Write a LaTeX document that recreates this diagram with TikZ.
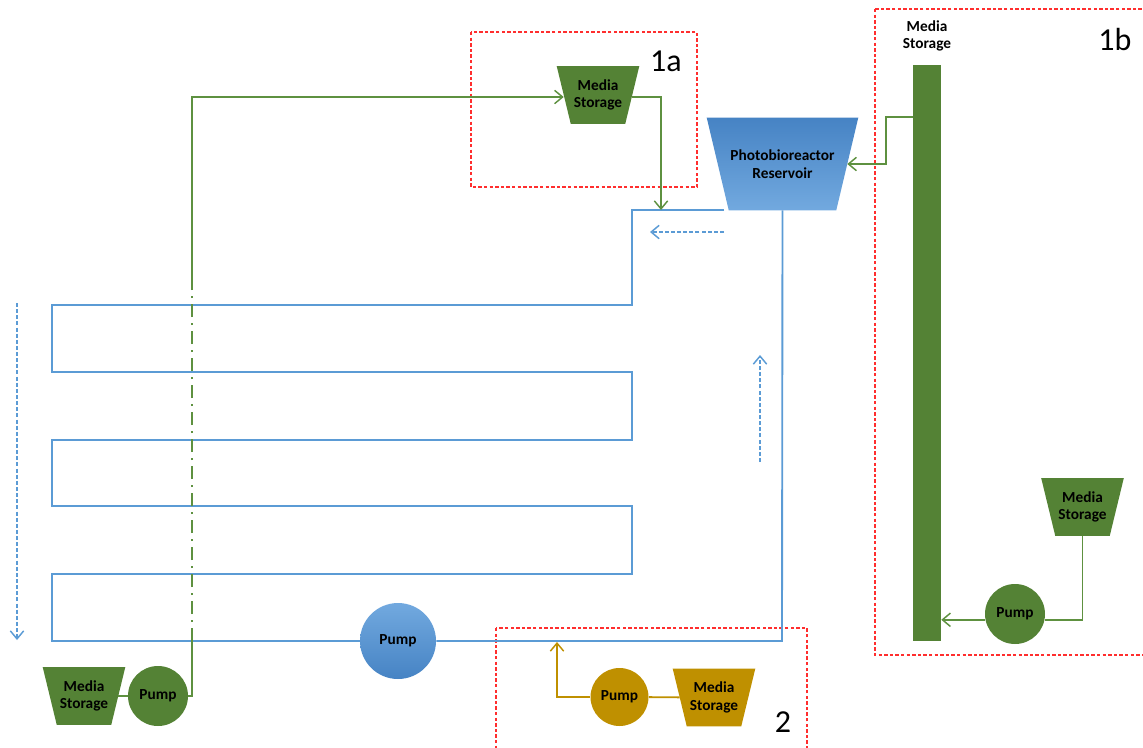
\documentclass[tikz,border=0pt]{standalone}
\usepackage{fontspec}
\setmainfont{Carlito}
\usetikzlibrary{arrows.meta,calc}
\definecolor{pgreen}{HTML}{548235}
\definecolor{lgreen}{HTML}{5E9140}
\definecolor{pblue}{HTML}{5B9BD5}
\definecolor{dblue}{HTML}{4683C4}
\definecolor{lblue}{HTML}{72A9DF}
\definecolor{pgold}{HTML}{BF9000}
\definecolor{pred}{HTML}{FF2E2E}
\pgfdeclarelayer{bg}
\pgfsetlayers{bg,main}
\newcommand\trapfill[3]{\fill[#3] ($(#1.north west)+(-#2,0)$) -- ($(#1.north east)+(#2,0)$) -- ($(#1.south east)+(-#2,0)$) -- ($(#1.south west)+(#2,0)$) -- cycle;}
\tikzset{
  x=0.75pt, y=-0.75pt,
  lbl/.style={font=\bfseries\fontsize{11.5}{13.3}\selectfont, align=center, text=black, inner sep=0pt},
  media/.style={lbl, minimum width=51pt, minimum height=42.75pt},
  pumpnode/.style={lbl, circle, minimum size=45pt},
  pipe/.style={draw=pblue, line width=1.4pt},
  gline/.style={draw=lgreen, line width=1.4pt},
  goldline/.style={draw=pgold, line width=1.4pt},
  barb/.style={-{Straight Barb[length=6pt,width=10pt,line width=1.1pt]}},
  flow/.style={draw=pblue, line width=1.1pt, dash pattern=on 3pt off 1.6pt, -{Straight Barb[length=6pt,width=10pt,line width=1.1pt]}},
  zone/.style={draw=pred, line width=0.8pt, dash pattern=on 2.6pt off 1.6pt},
  zonelbl/.style={font=\fontsize{24}{24}\selectfont, text=black, inner sep=0pt},
  dashdot/.style={draw=lgreen, line width=1.4pt, dash pattern=on 9.75pt off 4.5pt on 1.5pt off 4.5pt}
}
\begin{document}
\begin{tikzpicture}
\useasboundingbox (0,0) rectangle (1143,747);

% zones
\draw[zone] (471,32) rectangle (697,187);
\draw[zone] (875,9) rectangle (1152,655);
\draw[zone] (496,628) rectangle (807,760);
\node[zonelbl] (z1a) at (666,61) {1a};
\node[zonelbl] (z1b) at (1115,39) {1b};
\node[zonelbl] (z2) at (783,722) {2};

% nodes
\node[lbl, minimum width=96.75pt, minimum height=69pt] (res) at (782.5,164) {Photobioreactor\\Reservoir};
\node[media] (ms1a) at (598,95) {Media\\Storage};
\node[media] (ms1b) at (1082.5,507) {Media\\Storage};
\node[media] (msL) at (84,696) {Media\\Storage};
\node[media] (ms2) at (714,697.5) {Media\\Storage};
\node[draw=none, fill=pgreen, minimum width=21pt, minimum height=432pt, inner sep=0pt] (bar) at (927,353) {};
\node[lbl] (barlbl) at (927,36) {Media\\Storage};
\node[pumpnode, fill=pgreen] (pump1b) at (1015,614) {Pump};
\node[pumpnode, fill=pgreen] (pumpL) at (158,696) {Pump};
\node[pumpnode, fill=pgold, minimum size=43.5pt] (pump2) at (619.5,697) {Pump};
\node[pumpnode, top color=lblue, bottom color=dblue, minimum size=57pt] (pumpB) at (398,641) {Pump};

\begin{pgfonlayer}{bg}
\shade[top color=dblue, bottom color=lblue] ($(res.north west)+(-11,0)$) -- ($(res.north east)+(11,0)$) -- ($(res.south east)+(-11,0)$) -- ($(res.south west)+(11,0)$) -- cycle;
\trapfill{ms1a}{7}{pgreen}
\trapfill{ms1b}{7}{pgreen}
\trapfill{msL}{7}{pgreen}
\trapfill{ms2}{7}{pgold}
\end{pgfonlayer}

% serpentine
\coordinate (s0) at (724,210);
\draw[pipe] (s0) -- (632,210) -- (632,305) -- (52,305) -- (52,372) -- (632,372) -- (632,440) -- (52,440) -- (52,506) -- (632,506) -- (632,574) -- (52,574) -- (52,641) -- (pumpB);
\draw[pipe] (pumpB) -- (782,641) -- (res.south);

% flow arrows
\coordinate (f1s) at (724,232); \coordinate (f1e) at (650,232);
\coordinate (f2s) at (760,462); \coordinate (f2e) at (760,355);
\coordinate (f3s) at (17,303);  \coordinate (f3e) at (17,640);
\draw[flow] (f1s) -- (f1e);
\draw[flow] (f2s) -- (f2e);
\draw[flow] (f3s) -- (f3e);

% 1a feed
\coordinate (gA) at (192,641);
\coordinate (gB) at (192,286);
\coordinate (gC) at (192,97);
\draw[gline] (msL) -- (pumpL);
\draw[gline] (pumpL.east) -- (192,696) -- (gA);
\draw[dashdot] (gA) -- (gB);
\draw[gline, barb] (gB) -- (gC) -- (ms1a.west |- gC);
\coordinate (t1a) at (661,210);
\draw[gline, barb] (ms1a.east |- gC) -- (661,97) -- (t1a);

% 1b feed
\coordinate (b1) at (913,117);
\draw[gline, barb] (b1) -- (886,117) -- (886,164) -- (res.east);
\draw[gline] (ms1b.south) -- (ms1b.south |- pump1b.-11) -- (pump1b.-11);
\draw[gline, barb] (pump1b.191) -- (pump1b.191 -| bar.east);

% 2 feed
\coordinate (t2) at (557,642);
\draw[goldline] (pump2) -- (ms2);
\draw[goldline, barb] (pump2.west) -- (557,697) -- (t2);
\end{tikzpicture}
\end{document}
